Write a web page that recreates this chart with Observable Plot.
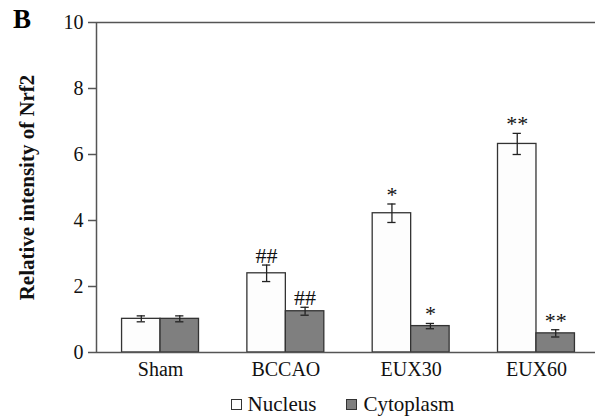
<!DOCTYPE html>
<html>
<head>
<meta charset="utf-8">
<script src="https://cdn.jsdelivr.net/npm/d3@7"></script>
<script src="https://cdn.jsdelivr.net/npm/@observablehq/plot@0.6"></script>
<style>
  html, body { margin: 0; padding: 0; background: #fff; }
  #wrap { position: relative; width: 595px; height: 417px; font-family: "Liberation Serif", "Times New Roman", serif; }
  #panel { position: absolute; left: 13px; top: 4px; font-size: 27px; font-weight: bold; color: #000; }
  #legend { width: 595px; height: 25px; box-sizing: border-box; padding-left: 90px; display: flex; justify-content: center; align-items: center; gap: 30px; font-size: 21px; color: #111; }
  #legend span.item { display: inline-flex; align-items: center; gap: 6px; }
  #legend span.sw { display: inline-block; width: 11px; height: 11px; border: 1px solid #333; box-sizing: border-box; }
  svg g[aria-label="y-axis tick label"] { font-size: 20px; }
  svg g[aria-label="y-axis label"] { font-size: 21px; font-weight: bold; }
</style>
</head>
<body>
<div id="wrap">
  <div id="chart"></div>
  <div id="legend"></div>
  <div id="panel">B</div>
</div>
<script>
const categories = ["Sham", "BCCAO", "EUX30", "EUX60"];
const seriesNames = ["Nucleus", "Cytoplasm"];
const nucleus = [1.02, 2.40, 4.22, 6.32];
const nucleusErr = [0.09, 0.25, 0.28, 0.32];
const cytoplasm = [1.02, 1.25, 0.80, 0.58];
const cytoplasmErr = [0.09, 0.12, 0.08, 0.11];
const nucleusSig = ["", "##", "*", "**"];
const cytoplasmSig = ["", "##", "*", "**"];
const yTicks = [0, 2, 4, 6, 8, 10];

const colors = {Nucleus: "#fdfdfd", Cytoplasm: "#7f7f7f"};
const xDomain = [-0.511, 3.471];
const barW = 0.307;
const capW = 0.033;

function rowsFor(name, vals, errs, sig, side) {
  return categories.map((c, i) => {
    const x1 = side < 0 ? i - barW : i;
    const x2 = side < 0 ? i : i + barW;
    return {cat: c, series: name, x1, x2, xc: (x1 + x2) / 2, value: vals[i], lo: vals[i] - errs[i], hi: vals[i] + errs[i], sig: sig[i]};
  });
}
const nucRows = rowsFor("Nucleus", nucleus, nucleusErr, nucleusSig, -1);
const cytRows = rowsFor("Cytoplasm", cytoplasm, cytoplasmErr, cytoplasmSig, 1);
const all = nucRows.concat(cytRows);

const font = "Liberation Serif, Times New Roman, serif";

const chart = Plot.plot({
  width: 595,
  height: 392,
  marginLeft: 96,
  marginRight: 0,
  marginTop: 22,
  marginBottom: 40,
  style: {fontFamily: font, background: "#fff", color: "#111"},
  x: {domain: xDomain, axis: null},
  y: {domain: [0, 10], axis: null},
  marks: [
    Plot.rectY(nucRows, {x1: "x1", x2: "x2", y1: 0, y2: "value", fill: colors.Nucleus, stroke: "#333", strokeWidth: 1.3}),
    Plot.rectY(cytRows, {x1: "x1", x2: "x2", y1: 0, y2: "value", fill: colors.Cytoplasm, stroke: "#333", strokeWidth: 1.3}),
    Plot.ruleX(all, {x: "xc", y1: "lo", y2: "hi", stroke: "#222", strokeWidth: 1.3}),
    Plot.ruleY(all, {y: "hi", x1: d => d.xc - capW, x2: d => d.xc + capW, stroke: "#222", strokeWidth: 1.3}),
    Plot.ruleY(all, {y: "lo", x1: d => d.xc - capW, x2: d => d.xc + capW, stroke: "#222", strokeWidth: 1.3}),
    Plot.text(all, {x: "xc", y: "hi", text: "sig", lineAnchor: "bottom", dy: -2, fontSize: 22, fill: "#111"}),
    Plot.ruleY([yTicks[0], yTicks[yTicks.length - 1]], {stroke: "#555", strokeWidth: 1.5}),
    Plot.ruleX([xDomain[0]], {y1: yTicks[0], y2: yTicks[yTicks.length - 1], stroke: "#555", strokeWidth: 1.5}),
    Plot.axisY({ticks: yTicks, tickSize: 8, tickPadding: 5, fontSize: 20, stroke: "#555", strokeWidth: 1.5, fill: "#111",
      label: "Relative intensity of Nrf2", labelAnchor: "center", labelArrow: "none", labelOffset: 77}),
    Plot.axisX({ticks: [0, 1, 2, 3], tickFormat: i => categories[i], tickSize: 0, tickPadding: 9, fontSize: 20, fill: "#111", label: null})
  ]
});
document.getElementById("chart").appendChild(chart);

const legend = document.getElementById("legend");
seriesNames.forEach(name => {
  const item = document.createElement("span");
  item.className = "item";
  const sw = document.createElement("span");
  sw.className = "sw";
  sw.style.background = colors[name];
  item.appendChild(sw);
  item.appendChild(document.createTextNode(name));
  legend.appendChild(item);
});
</script>
</body>
</html>
